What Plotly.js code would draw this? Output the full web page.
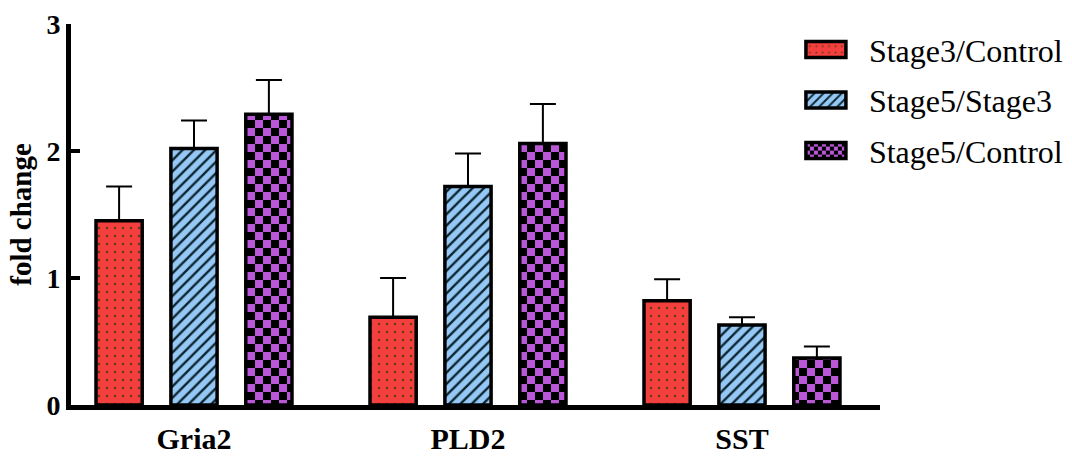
<!DOCTYPE html>
<html><head><meta charset="utf-8">
<script src="https://cdn.plot.ly/plotly-3.0.1.min.js"></script>
<style>html,body{margin:0;padding:0;background:#fff}</style>
</head><body>
<div id="chart" style="width:1072px;height:457px"></div>
<script>
// ---- data ----
const genes = ['Gria2', 'PLD2', 'SST'];
const seriesNames = ['Stage3/Control', 'Stage5/Stage3', 'Stage5/Control'];
const stage3Control = [1.45, 0.69, 0.82];
const stage3ControlErr = [0.27, 0.31, 0.17];
const stage5Stage3 = [2.02, 1.72, 0.63];
const stage5Stage3Err = [0.22, 0.26, 0.06];
const stage5Control = [2.29, 2.06, 0.37];
const stage5ControlErr = [0.27, 0.31, 0.09];
const yTickVals = [0, 1, 2, 3];
const yTickText = ['0', '1', '2', '3'];

const SERIF = '"Liberation Serif", "Times New Roman", Times, serif';
const PURPLE = '#b957d8';

function mkTrace(name, y, err, bg, fg, shape, size, solidity) {
  return {
    type: 'bar', name: name, x: genes, y: y, legendgroup: name,
    error_y: {type: 'data', array: err, symmetric: false, arrayminus: err.map(() => 0),
              color: '#000', thickness: 2, width: 13},
    marker: {color: bg, line: {color: '#000', width: 3.5},
             pattern: {shape: shape, bgcolor: bg, fgcolor: fg, size: size, solidity: solidity, fillmode: 'replace'}},
    hoverinfo: 'skip'
  };
}

const data = [
  mkTrace(seriesNames[0], stage3Control, stage3ControlErr, '#f43f3f', '#6b3a10', '.', 8, 0.08),
  mkTrace(seriesNames[1], stage5Stage3, stage5Stage3Err, '#96c8f5', '#0b2530', '/', 8, 0.3),
  mkTrace(seriesNames[2], stage5Control, stage5ControlErr, PURPLE, '#000', '+', 16, 0.5)
];

const layout = {
  width: 1072, height: 457,
  margin: {l: 71, r: 192, t: 24, b: 52, autoexpand: false},
  paper_bgcolor: '#fff', plot_bgcolor: 'rgba(0,0,0,0)',
  barmode: 'group', bargap: 0.18, bargroupgap: 0.383,
  showlegend: true,
  legend: {x: 0.880, xanchor: 'left', y: 1.005, yanchor: 'top',
           font: {family: SERIF, size: 32, color: '#000'},
           itemwidth: 76, tracegroupgap: 6, bgcolor: 'rgba(0,0,0,0)'},
  xaxis: {range: [-0.4489, 2.5037], showline: true, linecolor: '#000', linewidth: 5,
          ticks: '', showgrid: false, zeroline: false, fixedrange: true,
          tickfont: {family: SERIF, size: 30, color: '#000', weight: 'bold'}, ticklabelstandoff: 3},
  yaxis: {range: [0, 3], tickvals: yTickVals, ticktext: yTickText,
          showline: true, linecolor: '#000', linewidth: 5,
          ticks: 'inside', ticklen: 9, tickwidth: 4, tickcolor: '#000',
          showgrid: false, zeroline: false, fixedrange: true,
          tickfont: {family: SERIF, size: 28, color: '#000', weight: 'bold'},
          title: {text: 'fold change', standoff: 8, font: {family: SERIF, size: 29, color: '#000', weight: 'bold'}}}
};

function patch() {
  // checkerboard fill for the purple series
  document.querySelectorAll('pattern').forEach(function (p) {
    const rect = p.querySelector('rect');
    const path = p.querySelector('path');
    if (!rect || !path) return;
    const f = (rect.style.fill || rect.getAttribute('fill') || '').replace(/\s/g, '');
    if (f === 'rgb(185,87,216)' || f.toLowerCase() === PURPLE) {
      const w = parseFloat(p.getAttribute('width'));
      const h = w / 2;
      path.setAttribute('d', 'M0,0H' + h + 'V' + h + 'H0Z M' + h + ',' + h + 'H' + w + 'V' + w + 'H' + h + 'Z');
      path.style.stroke = 'none';
      path.style.fill = '#000';
      path.style.strokeWidth = '0';
    }
  });
  // wider legend swatches
  document.querySelectorAll('.legendpoints path').forEach(function (el) {
    el.setAttribute('d', 'M20,8H-20V-8H20Z');
  });
}

Plotly.newPlot('chart', data, layout, {displayModeBar: false, staticPlot: true}).then(function () {
  patch();
  setTimeout(patch, 50);
  setTimeout(patch, 300);
});
</script>
</body></html>
